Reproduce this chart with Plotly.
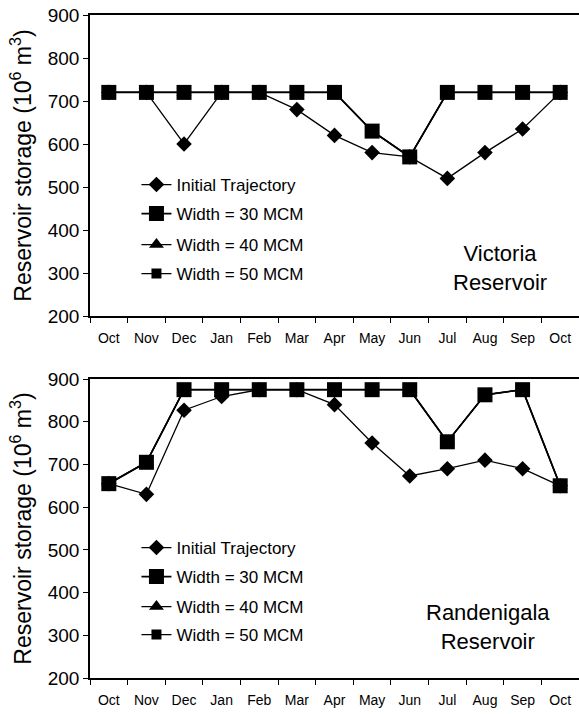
import plotly.graph_objects as go

months = ["Oct", "Nov", "Dec", "Jan", "Feb", "Mar", "Apr", "May", "Jun", "Jul", "Aug", "Sep", "Oct"]
x_idx = list(range(len(months)))

# Victoria Reservoir
vic_initial = [720, 720, 600, 720, 720, 680, 620, 580, 570, 520, 580, 635, 720]
vic_w30 = [720, 720, 720, 720, 720, 720, 720, 630, 570, 720, 720, 720, 720]
vic_w40 = [720, 720, 720, 720, 720, 720, 720, 630, 570, 720, 720, 720, 720]
vic_w50 = [720, 720, 720, 720, 720, 720, 720, 630, 570, 720, 720, 720, 720]

# Randenigala Reservoir
ran_initial = [655, 630, 827, 859, 875, 875, 840, 750, 673, 690, 710, 690, 650]
ran_w30 = [655, 705, 875, 875, 875, 875, 875, 875, 875, 753, 863, 875, 650]
ran_w40 = [655, 705, 875, 875, 875, 875, 875, 875, 875, 753, 863, 875, 650]
ran_w50 = [655, 705, 875, 875, 875, 875, 875, 875, 875, 753, 863, 875, 650]

y_ticks = [200, 300, 400, 500, 600, 700, 800, 900]
names = ["Initial Trajectory", "Width = 30 MCM", "Width = 40 MCM", "Width = 50 MCM"]

FONT = "Liberation Sans, Arial, sans-serif"
W, H = 579, 714

fig = go.Figure()

styles = {
    0: dict(symbol="diamond", size=12, lw=1.3),
    1: dict(symbol="square", size=15, lw=1.8),
    2: dict(symbol="triangle-up", size=13, lw=1.3),
    3: dict(symbol="square", size=10, lw=1.3),
}

legend_layouts = {}

def add_panel(series, xa, ya, first_legend, entry_y):
    order = [0, 3, 2, 1]
    for i in order:
        st = styles[i]
        lg_num = first_legend + i
        lg = "legend" if lg_num == 1 else f"legend{lg_num}"
        fig.add_trace(go.Scatter(
            x=x_idx, y=series[i], name=names[i], mode="lines+markers",
            xaxis=xa, yaxis=ya, legend=lg, showlegend=True,
            line=dict(color="black", width=st["lw"]),
            marker=dict(symbol=st["symbol"], size=st["size"], color="black"),
        ))
        legend_layouts[lg] = dict(
            x=0.095, y=1 - entry_y[i] / H, xanchor="left", yanchor="middle",
            font=dict(family=FONT, size=17, color="black"),
            bgcolor="rgba(0,0,0,0)",
        )

add_panel([vic_initial, vic_w30, vic_w40, vic_w50], "x", "y", 1, [185, 214, 245, 274])
add_panel([ran_initial, ran_w30, ran_w40, ran_w50], "x2", "y2", 5, [548, 577, 607, 635])

top_dom = [1 - 316 / H, 1 - 15 / H]
bot_dom = [1 - 678 / H, 1 - 379 / H]

xcommon = dict(
    range=[-0.5, 12.5], tickvals=x_idx, ticktext=months, ticks="", showgrid=False,
    showline=True, linecolor="black", linewidth=1.5, mirror=True, zeroline=False,
    tickfont=dict(family=FONT, size=14, color="black"), ticklabelstandoff=8,
    minor=dict(tickvals=[v - 0.5 for v in range(14)], ticks="outside", ticklen=5,
               tickcolor="black", tickwidth=1, showgrid=False),
    automargin=False,
)
ycommon = dict(
    range=[200, 900], tickvals=y_ticks, ticks="outside", ticklen=5, tickcolor="black",
    showgrid=False, showline=True, linecolor="black", linewidth=1.5, zeroline=False,
    tickfont=dict(family=FONT, size=19, color="black"),
    title=dict(text="Reservoir storage (10<sup>6</sup> m<sup>3</sup>)",
               font=dict(family=FONT, size=23, color="black"), standoff=10),
    automargin=False,
)

fig.update_layout(
    width=W, height=H,
    showlegend=True,
    margin=dict(l=90, r=0, t=0, b=0),
    paper_bgcolor="white", plot_bgcolor="white",
    xaxis=dict(domain=[0, 1], anchor="y", **xcommon),
    yaxis=dict(domain=top_dom, anchor="x", **ycommon),
    xaxis2=dict(domain=[0, 1], anchor="y2", **xcommon),
    yaxis2=dict(domain=bot_dom, anchor="x2", **ycommon),
    annotations=[
        dict(text="Victoria<br>Reservoir", x=(500 - 90) / 489, y=1 - 267.5 / H,
             xref="paper", yref="paper", xanchor="center", yanchor="middle",
             showarrow=False, font=dict(family=FONT, size=22, color="black")),
        dict(text="Randenigala<br>Reservoir", x=(488 - 90) / 489, y=1 - 626.5 / H,
             xref="paper", yref="paper", xanchor="center", yanchor="middle",
             showarrow=False, font=dict(family=FONT, size=22, color="black")),
    ],
    **legend_layouts,
)

fig.write_html("out.html", config={"displayModeBar": False},
               post_script="document.body.style.margin='0px';")
